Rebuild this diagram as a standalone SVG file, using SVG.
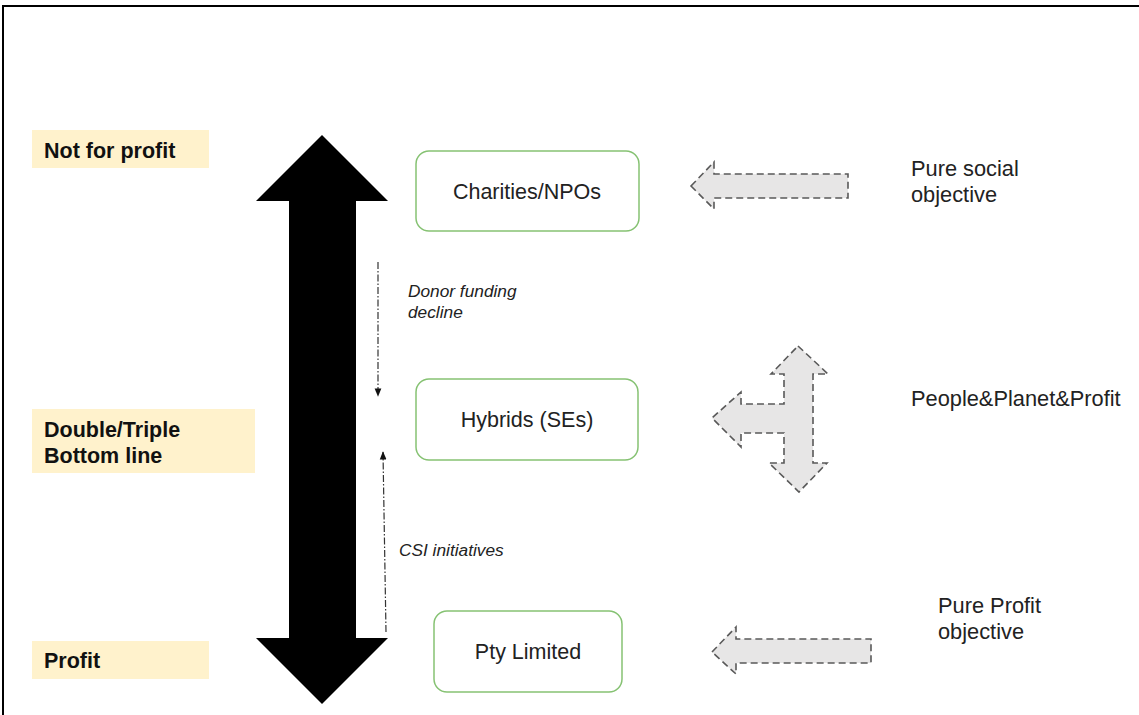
<svg xmlns="http://www.w3.org/2000/svg" width="1139" height="715" viewBox="0 0 1139 715">
  <style>
    .frame { fill: none; stroke: #000; stroke-width: 2; }
    .tag { fill: #fff2cc; }
    .tagtxt { font-family: "Liberation Sans", Arial, sans-serif; font-weight: bold; font-size: 21.5px; fill: #111; }
    .node { fill: #fff; stroke: #86c273; stroke-width: 1.5; }
    .ntxt { font-family: "Liberation Sans", Arial, sans-serif; font-size: 21.5px; fill: #222; text-anchor: middle; }
    .rtxt { font-family: "Liberation Sans", Arial, sans-serif; font-size: 21.8px; fill: #222; }
    .itxt { font-family: "Liberation Sans", Arial, sans-serif; font-style: italic; font-size: 17.3px; fill: #222; }
    .flow { fill: none; stroke: #333; stroke-width: 1.2; stroke-dasharray: 7 2 1.5 2; }
    .grey { fill: #e7e6e6; stroke: #595959; stroke-width: 1.6; stroke-dasharray: 7 4; }
  </style>
  <defs>
    <marker id="tip" viewBox="0 0 10 10" refX="9" refY="5" markerWidth="7" markerHeight="7" orient="auto">
      <path d="M0,1 L10,5 L0,9 Z" fill="#111"/>
    </marker>
  </defs>

  <rect width="1139" height="715" fill="#fff"/>
  <path class="frame" d="M3,715 V6 H1139"/>

  <!-- scale labels -->
  <g id="label-not-for-profit">
    <rect class="tag" x="32" y="130" width="177" height="38"/>
    <text class="tagtxt" x="44" y="158">Not for profit</text>
  </g>
  <g id="label-double-triple">
    <rect class="tag" x="32" y="409" width="223" height="64"/>
    <text class="tagtxt" x="44" y="437">Double/Triple</text>
    <text class="tagtxt" x="44" y="463">Bottom line</text>
  </g>
  <g id="label-profit">
    <rect class="tag" x="32" y="641" width="177" height="38"/>
    <text class="tagtxt" x="44" y="668">Profit</text>
  </g>

  <!-- spectrum arrow -->
  <g id="spectrum">
    <path d="M322,135 L388,201 L356,201 L356,638 L388,638 L322,704 L256,638 L289,638 L289,201 L256,201 Z" fill="#000"/>
  </g>

  <!-- organisation types -->
  <g id="node-charities">
    <rect class="node" x="416" y="151" width="223" height="80" rx="13"/>
    <text class="ntxt" x="527" y="199">Charities/NPOs</text>
  </g>
  <g id="node-hybrids">
    <rect class="node" x="416" y="379" width="222" height="81" rx="13"/>
    <text class="ntxt" x="527" y="427">Hybrids (SEs)</text>
  </g>
  <g id="node-pty">
    <rect class="node" x="434" y="611" width="188" height="81" rx="13"/>
    <text class="ntxt" x="528" y="659">Pty Limited</text>
  </g>

  <!-- movement between types -->
  <g id="connectors">
    <line class="flow" x1="378" y1="262" x2="378" y2="396" marker-end="url(#tip)"/>
    <line class="flow" x1="386" y1="632" x2="383" y2="452" marker-end="url(#tip)"/>
  </g>
  <g id="label-donor">
    <text class="itxt" x="408" y="297">Donor funding</text>
    <text class="itxt" x="408" y="318">decline</text>
  </g>
  <g id="label-csi">
    <text class="itxt" x="399" y="556">CSI initiatives</text>
  </g>

  <!-- objectives -->
  <g id="arrow-social">
    <path class="grey" d="M691,186 L714,162 L714,174 L848,174 L848,198 L714,198 L714,209 Z"/>
  </g>
  <g id="text-social">
    <text class="rtxt" x="911" y="176">Pure social</text>
    <text class="rtxt" x="911" y="202">objective</text>
  </g>
  <g id="arrow-triple">
    <path class="grey" d="M798,346 L828,374 L813,374 L813,463 L827,463 L799,492 L769,463 L784,463 L784,433 L741,433 L741,447 L712,418 L741,392 L741,404 L784,404 L784,374 L771,374 Z"/>
  </g>
  <g id="text-triple">
    <text class="rtxt" x="911" y="406">People&amp;Planet&amp;Profit</text>
  </g>
  <g id="arrow-profit">
    <path class="grey" d="M712,652 L736,627 L736,639 L871,639 L871,663 L736,663 L736,674 Z"/>
  </g>
  <g id="text-profit">
    <text class="rtxt" x="938" y="613">Pure Profit</text>
    <text class="rtxt" x="938" y="639">objective</text>
  </g>
</svg>
